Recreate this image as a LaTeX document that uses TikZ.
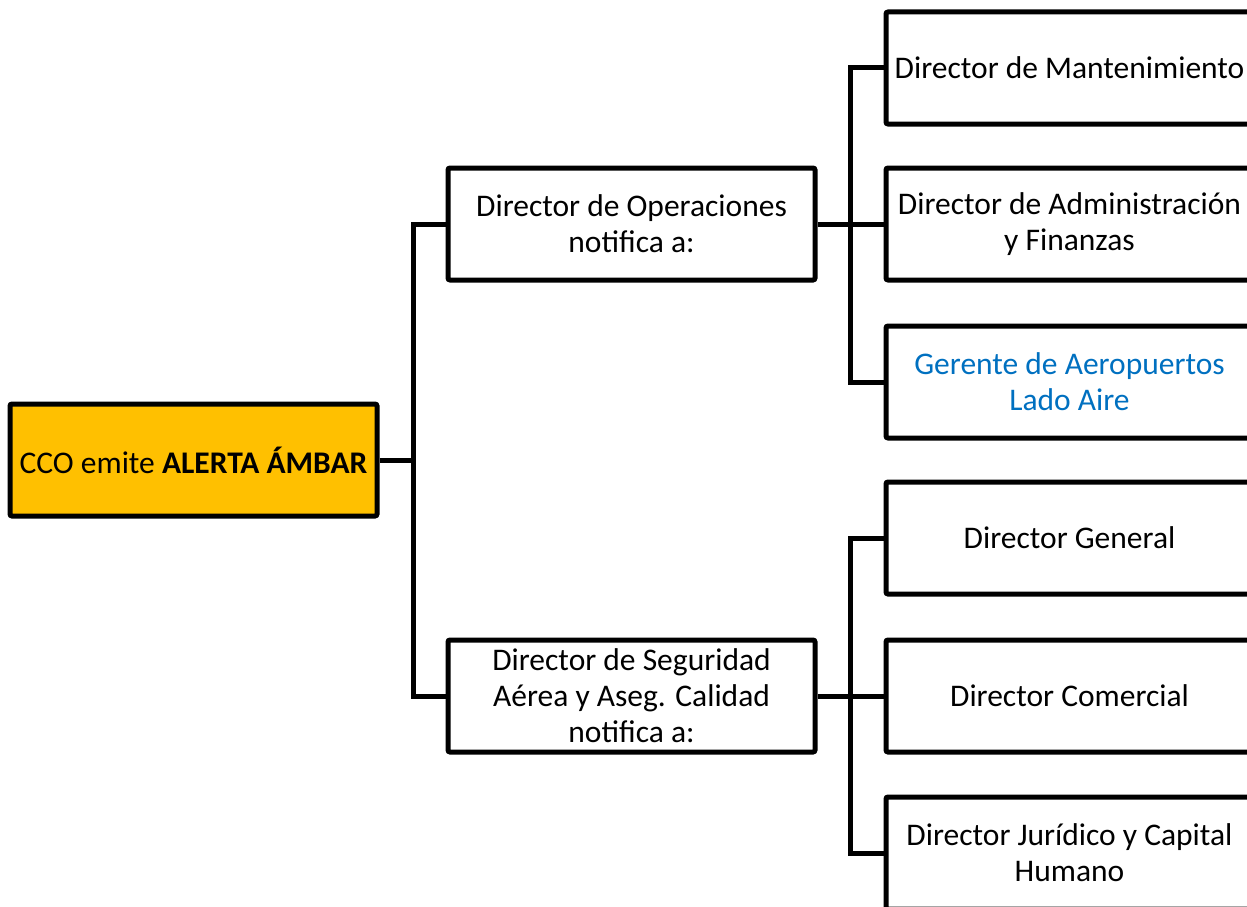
\documentclass[tikz,border=0pt]{standalone}
\usepackage{fontspec}
\setmainfont{Carlito}
\definecolor{amber}{HTML}{FFC000}
\definecolor{linkblue}{HTML}{0070C0}
\begin{document}
\begin{tikzpicture}[x=1pt,y=-1pt,
  box/.style={draw=black, line width=5pt, rounded corners=2pt, minimum width=367pt, minimum height=112pt, align=center, inner sep=0pt, font=\fontsize{31.5}{36}\selectfont},
  conn/.style={draw=black, line width=5pt}]
\useasboundingbox (0,0) rectangle (1247,907);
\clip (0,0) rectangle (1247,907);
\node[box, fill=amber] (root) at (193.5,460) {CCO emite \textbf{ALERTA ÁMBAR}};
\node[box] (mid1) at (631.5,224) {Director de Operaciones\\notifica a:};
\node[box] (mid2) at (631.5,696) {Director de Seguridad\\Aérea y Aseg. Calidad\\notifica a:};
\node[box] (r1) at (1069.5,68) {Director de Mantenimiento};
\node[box] (r2) at (1069.5,224) {Director de Administración\\y Finanzas};
\node[box, text=linkblue] (r3) at (1069.5,382) {Gerente de Aeropuertos\\Lado Aire};
\node[box] (r4) at (1069.5,538) {Director General};
\node[box] (r5) at (1069.5,696) {Director Comercial};
\node[box] (r6) at (1069.5,853) {Director Jurídico y Capital\\Humano};
\coordinate (t) at (413,460);
\coordinate (b1) at (850,224);
\coordinate (b2) at (850,696);
\draw[conn] (root.east) -- (t);
\draw[conn] (mid1.west) -- (mid1.west -| t) -- (mid2.west -| t) -- (mid2.west);
\draw[conn] (mid1.east) -- (r2.west);
\draw[conn] (r1.west) -- (r1.west -| b1) -- (r3.west -| b1) -- (r3.west);
\draw[conn] (mid2.east) -- (r5.west);
\draw[conn] (r4.west) -- (r4.west -| b2) -- (r6.west -| b2) -- (r6.west);
\end{tikzpicture}
\end{document}
